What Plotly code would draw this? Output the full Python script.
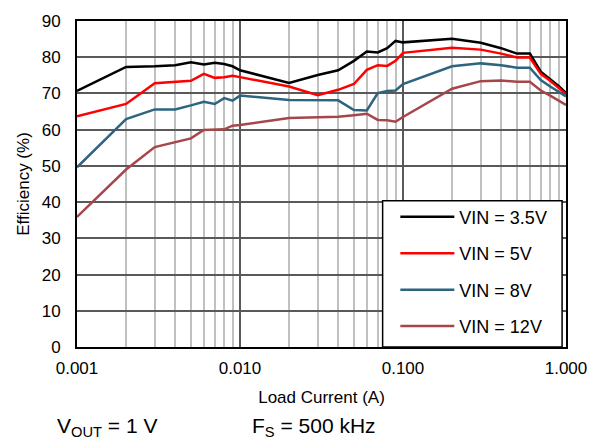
import plotly.graph_objects as go

# Load current (A)
load_current = [0.001, 0.002, 0.003, 0.004, 0.005, 0.006, 0.007, 0.008, 0.009,
                0.01, 0.02, 0.03, 0.04, 0.05, 0.06, 0.07, 0.08, 0.09,
                0.1, 0.2, 0.3, 0.4, 0.5, 0.6, 0.7, 0.8, 0.9, 1.0]

# Efficiency (%) for each input voltage
eff_vin_3v5 = [70.7, 77.3, 77.5, 77.8, 78.6, 78.0, 78.5, 78.1, 77.5,
               76.4, 72.9, 75.1, 76.4, 79.0, 81.6, 81.3, 82.5, 84.5,
               84.1, 85.1, 84.0, 82.5, 81.0, 81.0, 76.0, 74.0, 72.1, 70.1]
eff_vin_5v = [63.7, 67.1, 72.8, 73.3, 73.5, 75.4, 74.3, 74.5, 74.9,
              74.5, 71.9, 69.5, 71.0, 72.6, 76.5, 77.8, 77.6, 79.0,
              81.2, 82.6, 82.1, 81.0, 79.9, 79.9, 75.4, 73.5, 71.6, 69.8]
eff_vin_8v = [49.6, 62.9, 65.6, 65.6, 66.7, 67.7, 67.1, 68.7, 68.0,
              69.4, 68.2, 68.2, 68.1, 65.4, 65.3, 70.1, 70.7, 70.8,
              72.6, 77.5, 78.3, 77.8, 77.1, 77.1, 73.7, 71.9, 70.5, 69.2]
eff_vin_12v = [35.9, 49.0, 55.2, 56.5, 57.6, 59.9, 59.9, 60.1, 61.1,
               61.3, 63.2, 63.4, 63.6, 64.0, 64.4, 62.7, 62.6, 62.2,
               63.5, 71.3, 73.4, 73.6, 73.2, 73.2, 70.8, 69.4, 68.0, 66.8]

series_names = ["VIN = 3.5V", "VIN = 5V", "VIN = 8V", "VIN = 12V"]
series_values = [eff_vin_3v5, eff_vin_5v, eff_vin_8v, eff_vin_12v]
series_colors = ["#000000", "#ff0000", "#2d6480", "#a6464a"]

x_tick_vals = [0.001, 0.01, 0.1, 1.0]
x_tick_text = ["0.001", "0.010", "0.100", "1.000"]
x_minor_vals = [m * d for d in (0.001, 0.01, 0.1) for m in range(2, 10)]

FONT = "Liberation Sans, Arial, sans-serif"

fig = go.Figure()
for i, (name, vals, col) in enumerate(zip(series_names, series_values, series_colors)):
    fig.add_trace(go.Scatter(
        x=load_current, y=vals, name=name, mode="lines",
        line=dict(color=col, width=2.5),
        legendgroup=f"g{i}",
    ))

# legend frame
fig.add_shape(type="rect", xref="paper", yref="paper",
              x0=0.625, x1=0.992, y0=0.0, y1=0.449,
              line=dict(color="black", width=1.5), fillcolor="white",
              layer="above")

fig.update_layout(
    width=599, height=443,
    margin=dict(l=77, r=32, t=15, b=96),
    paper_bgcolor="white", plot_bgcolor="white",
    font=dict(family=FONT, size=17, color="black"),
    showlegend=True,
    legend=dict(
        x=0.651, y=0.455, xanchor="left", yanchor="top",
        bgcolor="rgba(0,0,0,0)", borderwidth=0,
        font=dict(family=FONT, size=18, color="black"),
        tracegroupgap=10, itemwidth=54,
    ),
    xaxis=dict(
        type="log", range=[-3, 0],
        tickvals=x_tick_vals, ticktext=x_tick_text,
        showgrid=True, gridcolor="#595959", gridwidth=1.5,
        minor=dict(tickvals=x_minor_vals, showgrid=True,
                   gridcolor="#c0c0c0", gridwidth=2, ticks=""),
        showline=True, linecolor="black", linewidth=2, mirror=True,
        ticks="", ticklabelstandoff=5,
        title=dict(text="Load Current (A)", standoff=14,
                   font=dict(family=FONT, size=17)),
        zeroline=False,
    ),
    yaxis=dict(
        range=[0, 90], dtick=10,
        showgrid=True, gridcolor="#595959", gridwidth=1.5,
        showline=True, linecolor="black", linewidth=2, mirror=True,
        ticks="", ticklabelstandoff=11,
        title=dict(text="Efficiency (%)", standoff=8,
                   font=dict(family=FONT, size=17)),
        zeroline=False,
    ),
    annotations=[
        dict(text="V<sub>OUT</sub> = 1 V", xref="paper", yref="paper",
             x=-0.045, y=-0.244, xanchor="left", yanchor="middle",
             showarrow=False, font=dict(family=FONT, size=21)),
        dict(text="F<sub>S</sub> = 500 kHz", xref="paper", yref="paper",
             x=0.353, y=-0.244, xanchor="left", yanchor="middle",
             showarrow=False, font=dict(family=FONT, size=21)),
    ],
)

fig.write_html("out.html")
